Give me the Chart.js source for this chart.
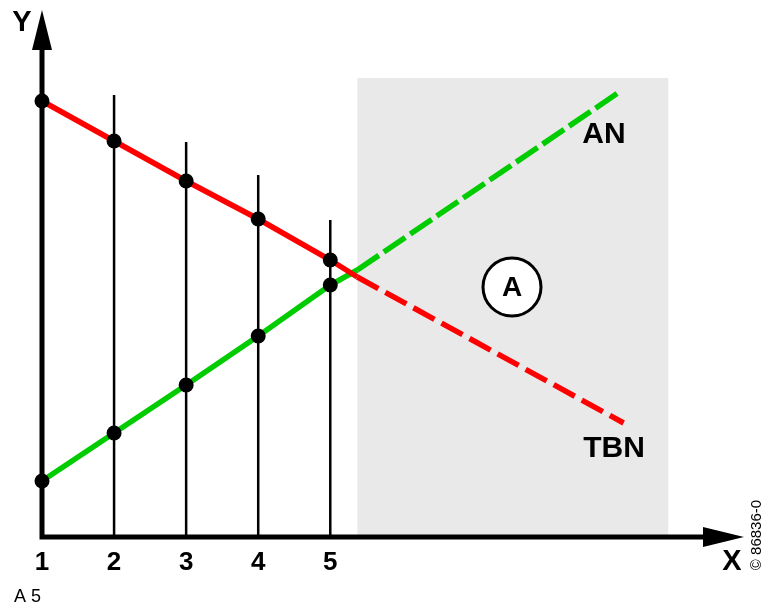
<!DOCTYPE html>
<html>
<head>
<meta charset="utf-8">
<script src="https://cdn.jsdelivr.net/npm/chart.js@4"></script>
<style>
  html, body { margin: 0; padding: 0; background: #fff; }
  #wrap { width: 763px; height: 605px; }
</style>
</head>
<body>
<div id="wrap"><canvas id="grafico" width="763" height="605"></canvas></div>
<script>
// Valores (eixo Y em unidades arbitrárias)
const xTickLabels = ['1', '2', '3', '4', '5'];
const xTickValues = [1, 2, 3, 4, 5];

// TBN (vermelho) - trecho sólido até o início da área cinza, depois tracejado
const tbnX = [1, 2, 3, 4, 5, 5.375, 9.07];
const tbnY = [43.6, 39.6, 35.6, 31.8, 27.7, 26.0, 11.4];
const tbnMarkers = [true, true, true, true, true, false, false];

// AN (verde)
const anX = [1, 2, 3, 4, 5, 5.375, 8.99];
const anY = [5.6, 10.4, 15.2, 20.1, 25.2, 26.7, 44.4];
const anMarkers = [true, true, true, true, true, false, false];

// linhas verticais nas posições 2..5 (altura do topo)
const verticalX = [2, 3, 4, 5];
const verticalTop = [44.2, 39.5, 36.2, 31.7];

// área A (cinza)
const areaX = [5.375, 9.69];
const areaY = [0, 45.9];

const DASH_START = 5; // índice a partir do qual o segmento fica tracejado

function pontos(xs, ys) {
    return xs.map((x, i) => ({ x: x, y: ys[i] }));
}

// Plugin para desenhar área, eixos com setas, linhas verticais e textos
const desenhoPlugin = {
    id: 'desenho',
    beforeDatasetsDraw(chart) {
        const ctx = chart.ctx;
        const sx = chart.scales.x;
        const sy = chart.scales.y;
        ctx.save();

        // área cinza
        ctx.fillStyle = '#e9e9e9';
        const ax0 = sx.getPixelForValue(areaX[0]);
        const ax1 = sx.getPixelForValue(areaX[1]);
        const ay0 = sy.getPixelForValue(areaY[1]);
        const ay1 = sy.getPixelForValue(areaY[0]);
        ctx.fillRect(ax0, ay0, ax1 - ax0, ay1 - ay0);

        // linhas verticais
        ctx.strokeStyle = '#000';
        ctx.lineWidth = 2.5;
        verticalX.forEach((v, i) => {
            const px = sx.getPixelForValue(v);
            ctx.beginPath();
            ctx.moveTo(px, sy.getPixelForValue(0));
            ctx.lineTo(px, sy.getPixelForValue(verticalTop[i]));
            ctx.stroke();
        });

        // eixos
        const ox = sx.getPixelForValue(1);
        const oy = sy.getPixelForValue(0);
        ctx.lineWidth = 5;
        ctx.beginPath();
        ctx.moveTo(ox, oy + 2.5);
        ctx.lineTo(ox, 45);
        ctx.moveTo(ox - 2.5, oy);
        ctx.lineTo(708, oy);
        ctx.stroke();

        ctx.fillStyle = '#000';
        // seta Y
        ctx.beginPath();
        ctx.moveTo(ox, 10);
        ctx.lineTo(ox - 10, 50);
        ctx.lineTo(ox + 10, 50);
        ctx.closePath();
        ctx.fill();
        // seta X
        ctx.beginPath();
        ctx.moveTo(744, oy);
        ctx.lineTo(703, oy - 10);
        ctx.lineTo(703, oy + 10);
        ctx.closePath();
        ctx.fill();

        // rótulos dos ticks
        ctx.font = 'bold 26px "Liberation Sans", Arial, sans-serif';
        ctx.textAlign = 'center';
        ctx.textBaseline = 'middle';
        xTickValues.forEach((v, i) => {
            ctx.fillText(xTickLabels[i], sx.getPixelForValue(v), 563);
        });

        // nomes dos eixos
        ctx.font = 'bold 29px "Liberation Sans", Arial, sans-serif';
        ctx.fillText('Y', 22, 23);
        ctx.fillText('X', 732, 562);

        // rótulos das linhas
        ctx.font = 'bold 30px "Liberation Sans", Arial, sans-serif';
        ctx.fillText('AN', 604, 135);
        ctx.fillText('TBN', 614, 449);

        // círculo A
        ctx.fillStyle = '#fff';
        ctx.lineWidth = 3;
        ctx.beginPath();
        ctx.arc(512, 287, 29, 0, Math.PI * 2);
        ctx.fill();
        ctx.stroke();
        ctx.fillStyle = '#000';
        ctx.font = 'bold 28px "Liberation Sans", Arial, sans-serif';
        ctx.fillText('A', 512, 288);

        // legenda inferior
        ctx.font = '18px "Liberation Sans", Arial, sans-serif';
        ctx.textAlign = 'left';
        ctx.fillText('A 5', 14, 597);

        // copyright vertical
        ctx.translate(757, 535);
        ctx.rotate(-Math.PI / 2);
        ctx.textAlign = 'center';
        ctx.font = '15px "Liberation Sans", Arial, sans-serif';
        ctx.fillText('\u00A9 86836-0', 0, 0);

        ctx.restore();
    }
};

const ctx = document.getElementById('grafico').getContext('2d');
window.graficoChart = new Chart(ctx, {
    type: 'line',
    data: {
        datasets: [
            {
                label: 'TBN',
                data: pontos(tbnX, tbnY),
                borderColor: '#ff0000',
                borderWidth: 5.5,
                borderCapStyle: 'butt',
                tension: 0,
                clip: false,
                pointRadius: tbnMarkers.map(m => m ? 7.5 : 0),
                pointBackgroundColor: '#000',
                pointBorderWidth: 0,
                segment: {
                    borderDash: c => c.p0DataIndex >= DASH_START ? [24, 8] : undefined
                }
            },
            {
                label: 'AN',
                data: pontos(anX, anY),
                borderColor: '#00cc00',
                borderWidth: 5.5,
                borderCapStyle: 'butt',
                tension: 0,
                clip: false,
                pointRadius: anMarkers.map(m => m ? 7.5 : 0),
                pointBackgroundColor: '#000',
                pointBorderWidth: 0,
                segment: {
                    borderDash: c => c.p0DataIndex >= DASH_START ? [26, 6] : undefined
                }
            }
        ]
    },
    options: {
        responsive: false,
        animation: false,
        layout: {
            padding: { left: 42, right: 1, top: 10, bottom: 68 }
        },
        plugins: {
            legend: { display: false },
            tooltip: { enabled: false }
        },
        scales: {
            x: { type: 'linear', min: 1, max: 10.9, display: false },
            y: { type: 'linear', min: 0, max: 52.7, display: false }
        }
    },
    plugins: [desenhoPlugin]
});
</script>
</body>
</html>
